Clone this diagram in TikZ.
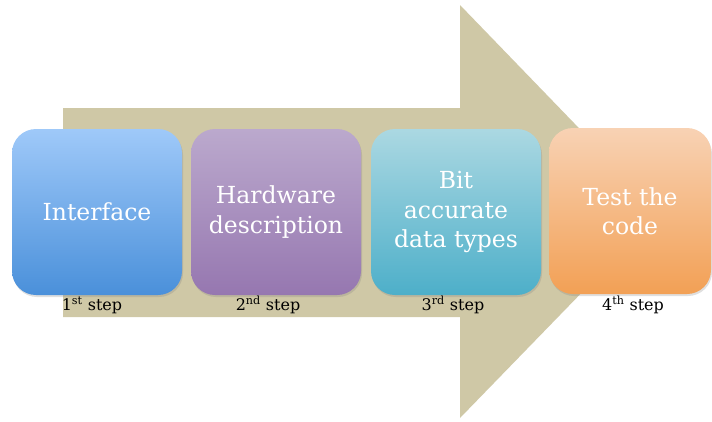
\documentclass[tikz,border=0pt]{standalone}
\usepackage{fontspec}
\setmainfont{DejaVu Serif}
\usetikzlibrary{shadows}
\definecolor{arrowtan}{HTML}{CFC8A6}
\definecolor{blueTop}{HTML}{9FC9F9}
\definecolor{blueBot}{HTML}{4A90DA}
\definecolor{violetTop}{HTML}{BBA9CD}
\definecolor{violetBot}{HTML}{9677B0}
\definecolor{tealTop}{HTML}{ABD8E2}
\definecolor{tealBot}{HTML}{4DAFC9}
\definecolor{orangeTop}{HTML}{F8D2B4}
\definecolor{orangeBot}{HTML}{F2A055}
\tikzset{
  stepbox/.style={rounded corners=24pt, minimum width=170pt, minimum height=166pt,
    inner sep=0pt, text=white, align=center, font=\fontsize{23.5}{29.5}\selectfont,
    drop shadow={shadow xshift=1pt, shadow yshift=-2pt, opacity=0.25}},
  steplabel/.style={font=\fontsize{16}{18}\selectfont, text=black, inner sep=0pt}
}
\begin{document}
\begin{tikzpicture}[x=1pt,y=-1pt]
  \useasboundingbox (0,0) rectangle (712,421);
  % background process arrow
  \fill[arrowtan] (63,108) -- (460,108) -- (460,5) -- (660,212)
        -- (460,418) -- (460,317) -- (63,317) -- cycle;
  % the four steps
  \node[stepbox, top color=blueTop, bottom color=blueBot] (s1) at (97,212)
    {Interface};
  \node[stepbox, top color=violetTop, bottom color=violetBot] (s2) at (276,212)
    {Hardware\\description};
  \node[stepbox, top color=tealTop, bottom color=tealBot] (s3) at (456,212)
    {Bit\\accurate\\data types};
  \node[stepbox, minimum width=162pt, top color=orangeTop, bottom color=orangeBot] (s4) at (630,211)
    {Test the\\code};
  % step labels
  \node[steplabel] (l1) at (92,305) {1\textsuperscript{st} step};
  \node[steplabel] (l2) at (268,305) {2\textsuperscript{nd} step};
  \node[steplabel] (l3) at (453,305) {3\textsuperscript{rd} step};
  \node[steplabel] (l4) at (633,305) {4\textsuperscript{th} step};
\end{tikzpicture}
\end{document}
